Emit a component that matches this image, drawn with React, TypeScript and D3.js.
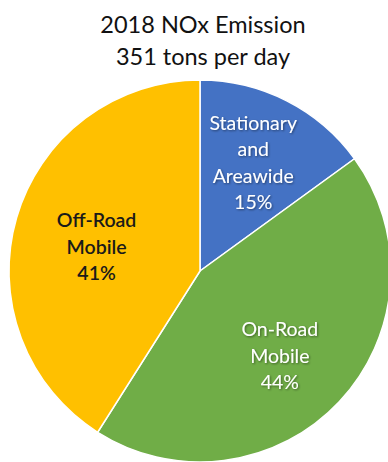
import React from "react";
import * as d3 from "d3";

const titleLines = ["2018 NOx Emission", "351 tons per day"];
const categories = ["Stationary and Areawide", "On-Road Mobile", "Off-Road Mobile"];
const labelLines = [["Stationary", "and", "Areawide"], ["On-Road", "Mobile"], ["Off-Road", "Mobile"]];
const values = [15, 44, 41];
const colors = ["#4472C4", "#70AD47", "#FFC000"];
const textColors = ["#ffffff", "#ffffff", "#1a1a1a"];
const labelNudges = [[1, -6], [-4, 6], [7, 8]];

const W = 388;
const H = 462;
const cx = 200;
const cy = 271;
const R = 191;
const labelR = 115;
const lineH = 26.5;
const font = "Lato, 'Open Sans', sans-serif";

export default function App() {
  const pie = d3.pie<number>().sort(null).value((d) => d);
  const arcs = pie(values);
  const arc = d3.arc<d3.PieArcDatum<number>>().innerRadius(0).outerRadius(R);
  const labelArc = d3.arc<d3.PieArcDatum<number>>().innerRadius(labelR).outerRadius(labelR);
  const total = d3.sum(values);

  return (
    <svg width={W} height={H} style={{ position: "absolute", left: 0, top: 0, background: "#fff" }}>
      <defs>
        <filter id="shadow" x="-20%" y="-20%" width="140%" height="140%">
          <feDropShadow dx="1" dy="1" stdDeviation="0.8" floodColor="#000" floodOpacity="0.45" />
        </filter>
      </defs>
      {titleLines.map((t, i) => (
        <text key={t} x={203} y={33 + i * 32} textAnchor="middle" fontFamily={font} fontSize={23.5} fill="#111">
          {t}
        </text>
      ))}
      <g transform={`translate(${cx},${cy})`}>
        {arcs.map((a, i) => (
          <path key={categories[i]} d={arc(a) || ""} fill={colors[i]} stroke="#fff" strokeWidth={1.5} />
        ))}
        {arcs.map((a, i) => {
          const [cxl, cyl] = labelArc.centroid(a);
          const lx = cxl + labelNudges[i][0];
          const ly = cyl + labelNudges[i][1];
          const lines = [...labelLines[i], `${Math.round((values[i] / total) * 100)}%`];
          const y0 = ly - ((lines.length - 1) * lineH) / 2 + 7;
          return (
            <text
              key={"l" + i}
              textAnchor="middle"
              fontFamily={font}
              fontSize={19.5}
              fontWeight={i === 2 ? 600 : 400}
              fill={textColors[i]}
              filter={i < 2 ? "url(#shadow)" : undefined}
            >
              {lines.map((ln, j) => (
                <tspan key={j} x={lx} y={y0 + j * lineH}>
                  {ln}
                </tspan>
              ))}
            </text>
          );
        })}
      </g>
    </svg>
  );
}
